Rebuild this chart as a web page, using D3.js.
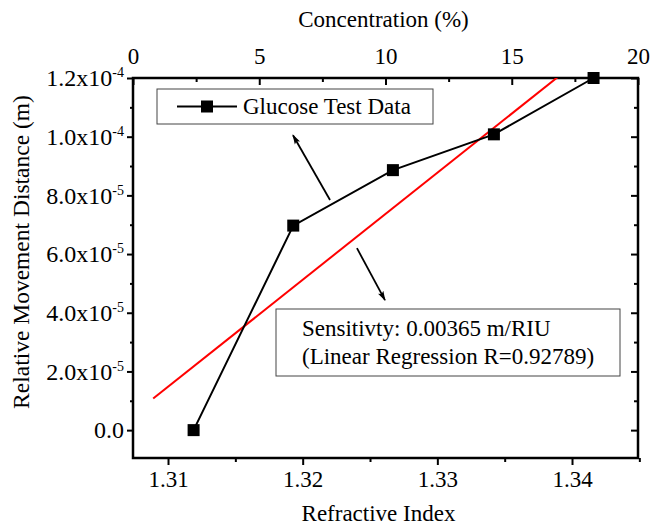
<!DOCTYPE html>
<html>
<head>
<meta charset="utf-8">
<script src="https://cdn.jsdelivr.net/npm/d3@7"></script>
<style>
  body { margin: 0; background: #fff; }
</style>
</head>
<body>
<svg id="chart" width="652" height="526"></svg>
<script>
// data
const refractiveIndex = [1.3119, 1.3193, 1.3267, 1.3342, 1.3416];
const distance = [0, 6.97e-5, 8.86e-5, 1.008e-4, 1.2e-4];
const seriesName = "Glucose Test Data";

const xTicks = [1.31, 1.32, 1.33, 1.34];
const yTicks = [0, 2e-5, 4e-5, 6e-5, 8e-5, 1e-4, 1.2e-4];
const concTicks = [0, 5, 10, 15, 20];

const fitRange = [1.3089, 1.3416];
const noteLines = ["Sensitivty: 0.00365 m/RIU", "(Linear Regression R=0.92789)"];

// arrows: [x1, y1, x2, y2] in data units
const arrows = [
  [1.32203, 7.84e-5, 1.31928, 10.05e-5],
  [1.32403, 6.2e-5, 1.32611, 4.43e-5]
];

const serif = "'Liberation Serif', 'Times New Roman', Times, serif";

const svg = d3.select("#chart");
const margin = {top: 78, right: 14, bottom: 68, left: 133};
const width = 652 - margin.left - margin.right;
const height = 526 - margin.top - margin.bottom;

const g = svg.append("g")
  .attr("transform", `translate(${margin.left}, ${margin.top})`);

const xScale = d3.scaleLinear().domain([1.3074, 1.3449]).range([0, width]);
const yScale = d3.scaleLinear().domain([-0.95e-5, 1.2e-4]).range([height, 0]);
const concScale = d3.scaleLinear().domain([0, 20]).range([0, width]);

const textFont = 23;

// defs
const defs = svg.append("defs");
defs.append("clipPath").attr("id", "plot-clip")
  .append("rect").attr("width", width).attr("height", height);
defs.append("marker")
  .attr("id", "arrowhead")
  .attr("viewBox", "0 0 10 10")
  .attr("refX", 9).attr("refY", 5)
  .attr("markerWidth", 10).attr("markerHeight", 10)
  .attr("markerUnits", "userSpaceOnUse")
  .attr("orient", "auto")
  .append("path")
  .attr("d", "M0,2 L10,5 L0,8 L2,5 Z")
  .attr("fill", "#000");

// axes
function styleAxis(sel, size = textFont) {
  sel.attr("font-family", null).attr("font-size", null);
  sel.select(".domain").remove();
  sel.selectAll(".tick line").attr("stroke", "#000").attr("stroke-width", 2);
  sel.selectAll(".tick text")
    .style("font-family", serif)
    .style("font-size", size + "px")
    .attr("fill", "#000");
}

const minorX = d3.range(1.315, 1.345, 0.01);
const minorY = d3.range(1e-5, 1.2e-4, 2e-5);
const minorConc = [2.5, 7.5, 12.5, 17.5];

// bottom
g.append("g")
  .attr("transform", `translate(0, ${height})`)
  .call(d3.axisBottom(xScale).tickValues(xTicks).tickFormat(d3.format(".2f")).tickSize(7).tickPadding(6))
  .call(styleAxis);
g.append("g")
  .attr("transform", `translate(0, ${height})`)
  .call(d3.axisBottom(xScale).tickValues(minorX).tickFormat("").tickSize(4))
  .call(styleAxis);

// top (concentration), ticks inward
g.append("g")
  .call(d3.axisTop(concScale).tickValues(concTicks).tickSizeInner(-7).tickSizeOuter(0).tickPadding(14))
  .call(styleAxis);
g.append("g")
  .call(d3.axisTop(concScale).tickValues(minorConc).tickFormat("").tickSizeInner(-4).tickSizeOuter(0))
  .call(styleAxis);

// left
const yAxisG = g.append("g")
  .call(d3.axisLeft(yScale).tickValues(yTicks).tickSize(6).tickPadding(3))
  .call(styleAxis, 24);
g.append("g")
  .call(d3.axisLeft(yScale).tickValues(minorY).tickFormat("").tickSize(3))
  .call(styleAxis);

yAxisG.selectAll(".tick text").each(function(d) {
  const t = d3.select(this).text(null);
  if (d === 0) { t.text("0.0"); return; }
  const exp = Math.floor(Math.log10(d) + 1e-9);
  const mant = (d / Math.pow(10, exp)).toFixed(1);
  t.append("tspan").text(mant + "x10");
  t.append("tspan").attr("dy", -9).style("font-size", "14px").text(exp);
});

// right, ticks inward
g.append("g")
  .attr("transform", `translate(${width}, 0)`)
  .call(d3.axisRight(yScale).tickValues(yTicks).tickFormat("").tickSizeInner(-7).tickSizeOuter(0))
  .call(styleAxis);
g.append("g")
  .attr("transform", `translate(${width}, 0)`)
  .call(d3.axisRight(yScale).tickValues(minorY).tickFormat("").tickSizeInner(-4).tickSizeOuter(0))
  .call(styleAxis);

// frame
g.append("rect")
  .attr("width", width).attr("height", height)
  .attr("fill", "none").attr("stroke", "#000").attr("stroke-width", 2.5);

// axis titles
svg.append("text")
  .attr("x", margin.left + width / 2 - 7).attr("y", 521)
  .attr("text-anchor", "middle")
  .style("font-family", serif).style("font-size", textFont + "px")
  .text("Refractive Index");
svg.append("text")
  .attr("x", margin.left + width / 2 - 2).attr("y", 27)
  .attr("text-anchor", "middle")
  .style("font-family", serif).style("font-size", textFont + "px")
  .text("Concentration (%)");
svg.append("text")
  .attr("transform", `translate(29, ${margin.top + height / 2 - 16}) rotate(-90)`)
  .attr("text-anchor", "middle")
  .style("font-family", serif).style("font-size", "23.5px")
  .text("Relative Movement Distance (m)");

// linear fit from the data
const mx = d3.mean(refractiveIndex), my = d3.mean(distance);
const sxy = d3.sum(refractiveIndex, (x, i) => (x - mx) * (distance[i] - my));
const sxx = d3.sum(refractiveIndex, x => (x - mx) * (x - mx));
const slope = sxy / sxx;
const intercept = my - slope * mx;

g.append("line")
  .attr("clip-path", "url(#plot-clip)")
  .attr("x1", xScale(fitRange[0])).attr("y1", yScale(slope * fitRange[0] + intercept))
  .attr("x2", xScale(fitRange[1])).attr("y2", yScale(slope * fitRange[1] + intercept))
  .attr("stroke", "#ff0000").attr("stroke-width", 2);

// data line + markers
const points = refractiveIndex.map((x, i) => ({x, y: distance[i]}));
g.append("path")
  .datum(points)
  .attr("d", d3.line().x(d => xScale(d.x)).y(d => yScale(d.y)))
  .attr("fill", "none").attr("stroke", "#000").attr("stroke-width", 2);

g.selectAll(".pt")
  .data(points)
  .enter()
  .append("rect")
  .attr("class", "pt")
  .attr("x", d => xScale(d.x) - 6).attr("y", d => yScale(d.y) - 6)
  .attr("width", 12).attr("height", 12)
  .attr("fill", "#000");

// arrows
g.selectAll(".arrow")
  .data(arrows)
  .enter()
  .append("line")
  .attr("class", "arrow")
  .attr("x1", d => xScale(d[0])).attr("y1", d => yScale(d[1]))
  .attr("x2", d => xScale(d[2])).attr("y2", d => yScale(d[3]))
  .attr("stroke", "#000").attr("stroke-width", 1.8)
  .attr("marker-end", "url(#arrowhead)");

// legend box
const legend = g.append("g").attr("transform", "translate(24, 11)");
legend.append("rect")
  .attr("width", 276).attr("height", 35)
  .attr("fill", "#fff").attr("stroke", "#444").attr("stroke-width", 1);
legend.append("line")
  .attr("x1", 20).attr("x2", 80).attr("y1", 17.5).attr("y2", 17.5)
  .attr("stroke", "#000").attr("stroke-width", 2);
legend.append("rect")
  .attr("x", 44).attr("y", 11.5).attr("width", 12).attr("height", 12)
  .attr("fill", "#000");
legend.append("text")
  .attr("x", 86).attr("y", 25)
  .style("font-family", serif).style("font-size", textFont + "px")
  .text(seriesName);

// note box
const note = g.append("g").attr("transform", "translate(143, 231)");
note.append("rect")
  .attr("width", 344).attr("height", 67)
  .attr("fill", "#fff").attr("stroke", "#444").attr("stroke-width", 1);
note.selectAll("text")
  .data(noteLines)
  .enter()
  .append("text")
  .attr("x", 26).attr("y", (d, i) => 27 + i * 28)
  .style("font-family", serif).style("font-size", textFont + "px")
  .text(d => d);
</script>
</body>
</html>
